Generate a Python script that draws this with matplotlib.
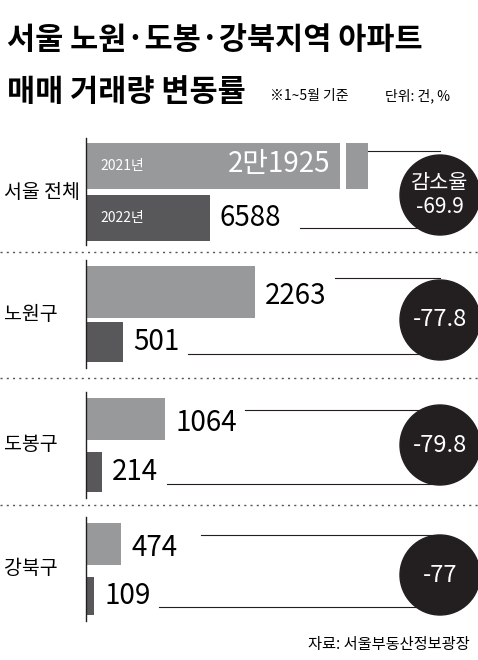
import matplotlib
matplotlib.use("Agg")
import matplotlib.pyplot as plt
from matplotlib.patches import Circle

plt.rcParams['font.family'] = ['Noto Sans CJK KR', 'DejaVu Sans']

regions = ["서울 전체", "노원구", "도봉구", "강북구"]
v2021 = [21925, 2263, 1064, 474]
v2022 = [6588, 501, 214, 109]
labels2021 = ["2만1925", "2263", "1064", "474"]
labels2022 = ["6588", "501", "214", "109"]
rates = ["감소율\n-69.9", "-77.8", "-79.8", "-77"]

LIGHT, DARK, BLACK = "#98999b", "#58585a", "#231f20"
fig = plt.figure(figsize=(4.78, 6.6), dpi=100)
ax = fig.add_axes([0, 0, 1, 1])
ax.set_xlim(0, 478); ax.set_ylim(660, 0); ax.axis("off")

fig.text(0.015, 0.94, "서울 노원·도봉·강북지역 아파트", fontsize=22, fontweight="bold", va="center")
fig.text(0.015, 0.86, "매매 거래량 변동률", fontsize=22, fontweight="bold", va="center")
fig.text(0.565, 0.855, "※1~5월 기준", fontsize=10, va="center")
fig.text(0.805, 0.855, "단위: 건, %", fontsize=10, va="center")

x0 = 86
rows = [  # (light top, light h, dark top, dark h, circle cy, sep y)
    (143, 46, 195, 46, 195, 252),
    (266, 52, 322, 40, 320, 378),
    (398, 42, 452, 40, 445, 505),
    (523, 42, 577, 38, 575, None),
]
scale = 169 / 2263
scale_total = 124 / 6588
for i, (lt, lh, dt, dh, cy, sep) in enumerate(rows):
    s = scale_total if i == 0 else scale
    w1, w2 = v2021[i] * s, v2022[i] * s
    if i == 0:
        ax.barh(lt + lh / 2, 340 - x0, height=lh, left=x0, color=LIGHT)
        ax.barh(lt + lh / 2, 22, height=lh, left=346, color=LIGHT)
        ax.barh(dt + dh / 2, w2, height=dh, left=x0, color=DARK)
        ax.text(100, lt + lh / 2, "2021년", color="white", fontsize=10, va="center")
        ax.text(100, dt + dh / 2, "2022년", color="white", fontsize=10, va="center")
        ax.text(330, lt + lh / 2 - 2, labels2021[i], color="white", fontsize=20, ha="right", va="center")
        ax.text(x0 + w2 + 10, dt + dh / 2, labels2022[i], fontsize=20, va="center")
        ax.plot([368, 440], [151, 151], color=BLACK, lw=0.8)
        ax.plot([300, 440], [228, 228], color=BLACK, lw=0.8)
        ax.plot([x0, x0], [138, 245], color=BLACK, lw=1)
    else:
        ax.barh(lt + lh / 2, w1, height=lh, left=x0, color=LIGHT)
        ax.barh(dt + dh / 2, w2, height=dh, left=x0, color=DARK)
        ax.text(x0 + w1 + 10, lt + lh / 2 + 4, labels2021[i], fontsize=20, va="center")
        ax.text(x0 + w2 + 10, dt + dh / 2, labels2022[i], fontsize=20, va="center")
        ax.plot([x0 + w1 + 80, 440], [lt + 12, lt + 12], color=BLACK, lw=0.8)
        ax.plot([x0 + w2 + 65, 440], [dt + dh - 8, dt + dh - 8], color=BLACK, lw=0.8)
        ax.plot([x0, x0], [lt - 6, dt + dh + 6], color=BLACK, lw=1)
    ax.text(4, (lt + dt + dh) / 2, regions[i], fontsize=14, ha="left", va="center")
    ax.add_patch(Circle((440, cy), 40, color=BLACK, zorder=3))
    ax.text(440, cy, rates[i], color="white", fontsize=17 if i else 15, ha="center", va="center",
            zorder=4, linespacing=1.1)
    if sep:
        ax.plot([0, 478], [sep, sep], color="#555555", lw=1, ls=(0, (1.5, 3)))

ax.text(470, 645, "자료: 서울부동산정보광장", fontsize=11, ha="right", va="center")
fig.savefig("out.png", dpi=100)
